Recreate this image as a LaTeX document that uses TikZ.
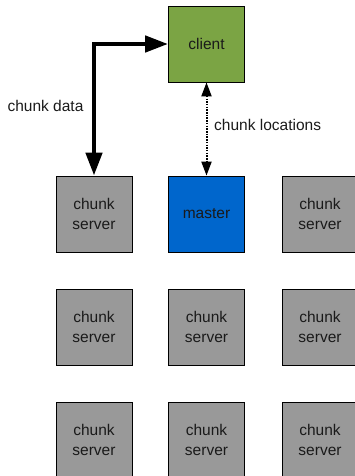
\documentclass[tikz,border=0pt]{standalone}
\usepackage{fontspec}
\setmainfont{Liberation Sans}
\usetikzlibrary{arrows.meta}
\definecolor{clientgreen}{HTML}{7BA444}
\definecolor{masterblue}{HTML}{0066CC}
\definecolor{servergray}{HTML}{999999}
\definecolor{txt}{HTML}{1A1A1A}
\begin{document}
\begin{tikzpicture}[x=1pt,y=-1pt,
  box/.style={draw=black,line width=0.8pt,minimum width=76pt,minimum height=76pt,inner sep=0pt,
    align=center,text=txt,font=\fontsize{15.5}{19.5}\selectfont},
  serverbox/.style={box,fill=servergray},
  lbl/.style={text=txt,font=\fontsize{15.5}{19.5}\selectfont,inner sep=0pt},
  dataarrow/.style={line width=4.5pt,{Triangle[length=23pt,width=16pt]}-{Triangle[length=23pt,width=16pt]}},
  locarrow/.style={line width=2pt,dash pattern=on 1.5pt off 1.2pt,{Triangle[length=14pt,width=10pt]}-{Triangle[length=14pt,width=10pt]}}]
\useasboundingbox (0,0) rectangle (355,476);
\node[box,fill=clientgreen] (client) at (206.5,44) {client};
\node[serverbox] (s11) at (94,214) {chunk\\server};
\node[box,fill=masterblue] (master) at (206.5,214) {master};
\node[serverbox] (s13) at (320,214) {chunk\\server};
\node[serverbox] (s21) at (94,327) {chunk\\server};
\node[serverbox] (s22) at (206.5,327) {chunk\\server};
\node[serverbox] (s23) at (320,327) {chunk\\server};
\node[serverbox] (s31) at (94,440) {chunk\\server};
\node[serverbox] (s32) at (206.5,440) {chunk\\server};
\node[serverbox] (s33) at (320,440) {chunk\\server};
\draw[dataarrow] (client.west) -| (s11.north);
\draw[locarrow] (client.south) -- (master.north);
\node[lbl] (cd) at (45.5,106) {chunk data};
\node[lbl,anchor=west] (cl) at (214,125) {chunk locations};
\end{tikzpicture}
\end{document}
